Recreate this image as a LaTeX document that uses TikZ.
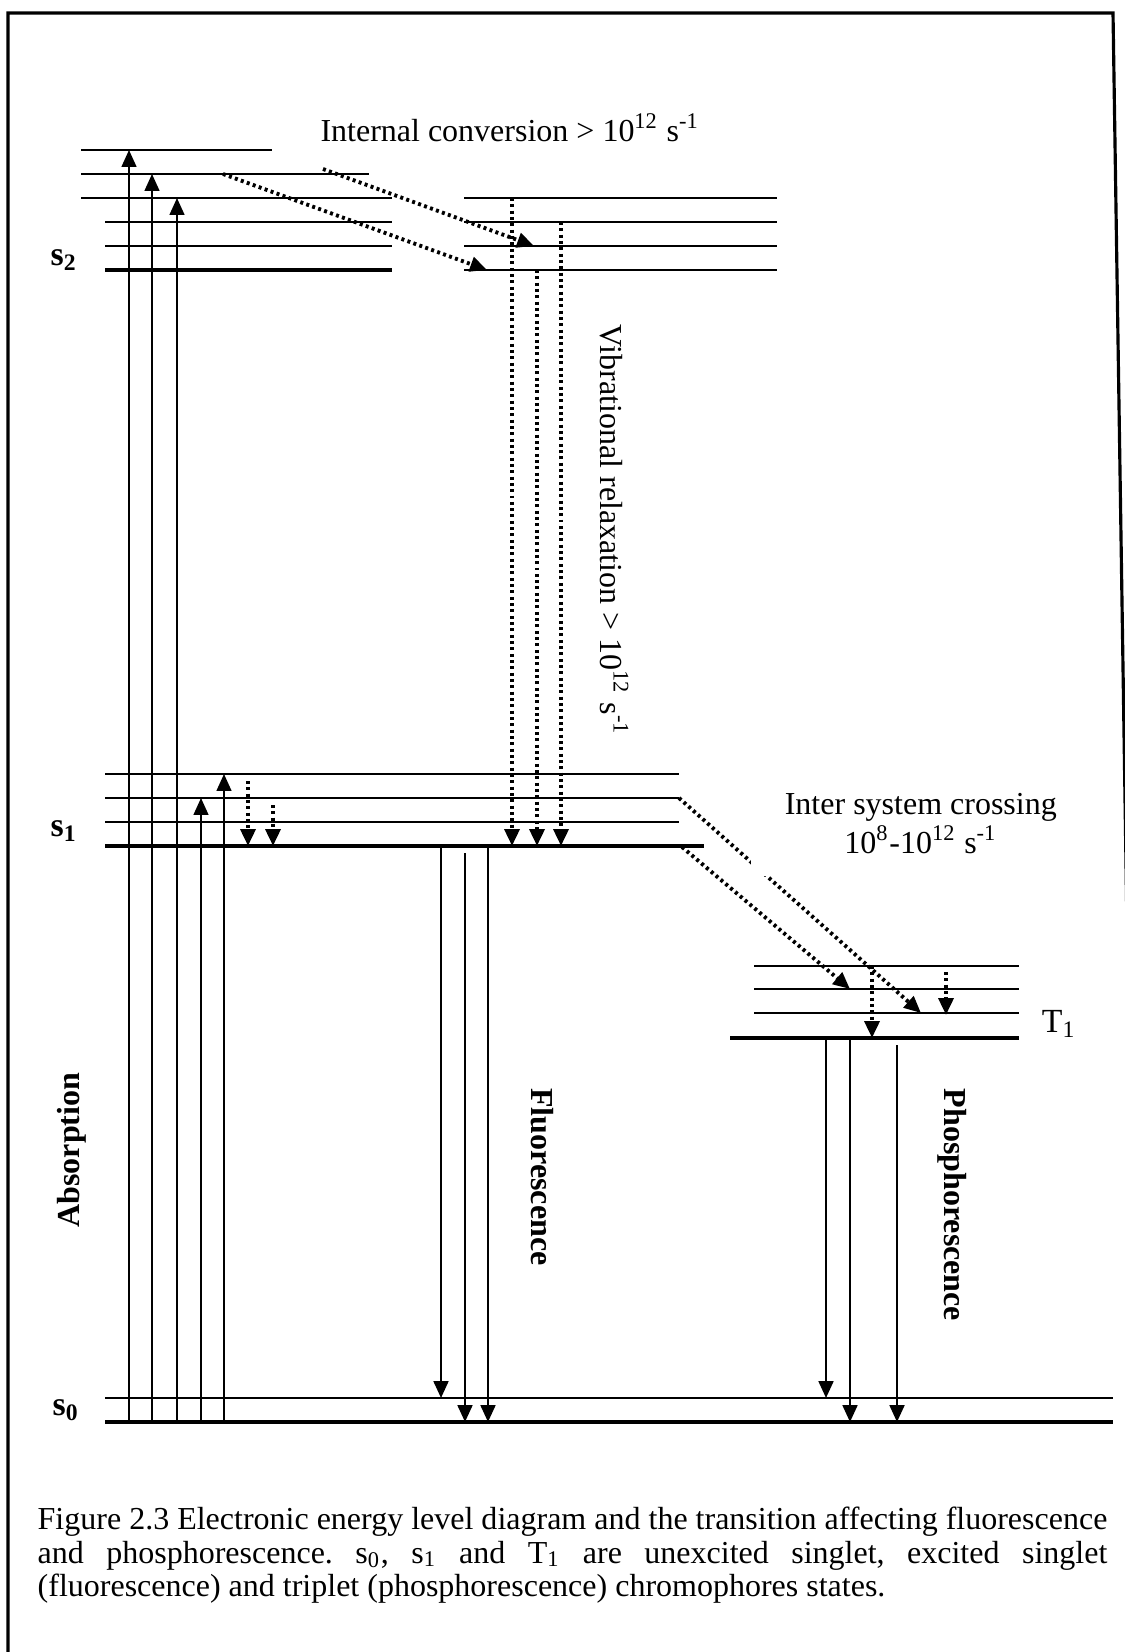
\documentclass[tikz,border=0pt]{standalone}
\usepackage{fontspec}
\setmainfont{Liberation Serif}
\usetikzlibrary{arrows.meta}
\frenchspacing

\begin{document}
\begin{tikzpicture}[x=0.01cm, y=-0.01cm,
    font=\fontsize{9.1}{11}\selectfont,
    >={Triangle[length=4.8pt,width=4.2pt]},
    marco/.style={line width=0.9pt},
    nivel/.style={line width=0.6pt},
    nivelbase/.style={line width=1.2pt},
    abso/.style={->, line width=0.55pt},
    emis/.style={->, line width=0.7pt},
    relaj/.style={->, line width=1.1pt, dash pattern=on 0.85pt off 0.95pt},
    rotulo/.style={font=\fontsize{9.1}{11}\selectfont\bfseries},
    estado/.style={font=\fontsize{9.6}{11}\selectfont\bfseries}]
    % Marco de la figura
    \useasboundingbox (0,0) rectangle (1125,1652);
    \draw[marco] (8,1652) -- (8,13) -- (1113,13) -- (1127,930);

    % Niveles S2 (izquierda)
    \draw[nivel] (81,150) coordinate (s2a) -- (272,150);
    \draw[nivel] (81,174) coordinate (s2b) -- (369,174);
    \draw[nivel] (81,198) coordinate (s2c) -- (392,198);
    \draw[nivel] (105,222) coordinate (s2d) -- (392,222);
    \draw[nivel] (105,246) coordinate (s2e) -- (392,246);
    \draw[nivelbase] (105,270) coordinate (s2f) -- (392,270);
    \node[estado] (lbls2) at (64,260) {s\textsubscript{2}};
    % Niveles S2 (derecha)
    \draw[nivel] (464,198) coordinate (s2g) -- (777,198);
    \draw[nivel] (464,222) coordinate (s2h) -- (777,222);
    \draw[nivel] (464,246) coordinate (s2i) -- (777,246);
    \draw[nivel] (464,270) coordinate (s2j) -- (777,270);

    % Niveles S1
    \draw[nivel] (105,774) coordinate (s1a) -- (679,774);
    \draw[nivel] (105,798) coordinate (s1b) -- (679,798) coordinate (s1bfin);
    \draw[nivel] (105,822) coordinate (s1c) -- (679,822);
    \draw[nivelbase] (105,846) coordinate (s1d) -- (704,846);
    \node[estado] (lbls1) at (64,831) {s\textsubscript{1}};

    % Niveles T1
    \draw[nivel] (754,966) coordinate (t1a) -- (1019,966);
    \draw[nivel] (754,989) coordinate (t1b) -- (1019,989);
    \draw[nivel] (754,1013) coordinate (t1c) -- (1019,1013);
    \draw[nivelbase] (730,1038) coordinate (t1d) -- (1019,1038);
    \node (lblt1) at (1059,1024) {\fontsize{9.6}{11}\selectfont T\textsubscript{1}};

    % Niveles S0
    \draw[nivel] (105,1398) coordinate (s0a) -- (1113,1398);
    \draw[nivelbase] (105,1422) coordinate (s0b) -- (1113,1422);
    \node[estado] (lbls0) at (66,1410) {s\textsubscript{0}};

    % Absorcion
    \draw[abso] (129,0 |- s0b) -- (129,0 |- s2a);
    \draw[abso] (152,0 |- s0b) -- (152,0 |- s2b);
    \draw[abso] (177,0 |- s0b) -- (177,0 |- s2c);
    \draw[abso] (201,0 |- s0b) -- (201,0 |- s1b);
    \draw[abso] (224,0 |- s0b) -- (224,0 |- s1a);
    \node[rotulo, rotate=90] (absorcion) at (72,1150) {Absorption};

    % Conversion interna
    \draw[relaj] (223,0 |- s2b) -- (487,0 |- s2j);
    \draw[relaj] (323,169) -- (534,0 |- s2i);
    \node[anchor=base] (convint) at (510,142)
        {Internal conversion > 10\textsuperscript{12} s\textsuperscript{-1}};

    % Relajacion vibracional
    \draw[relaj] (512,0 |- s2g) -- (512,0 |- s1d);
    \draw[relaj] (537,0 |- s2j) -- (537,0 |- s1d);
    \draw[relaj] (561,0 |- s2h) -- (561,0 |- s1d);
    \draw[relaj] (248,781) -- (248,0 |- s1d);
    \draw[relaj] (273,805) -- (273,0 |- s1d);
    \node[rotate=-90] (relvib) at (614,530)
        {Vibrational relaxation > 10\textsuperscript{12} s\textsuperscript{-1}};

    % Cruce entre sistemas
    \draw[relaj] (s1bfin) -- (921,0 |- t1c);
    \draw[relaj] (682,847) -- (850,0 |- t1b);
    \node[fill=white, align=center, anchor=south west, minimum width=3.4cm,
        minimum height=1.05cm, inner sep=0pt] (isc) at (750,877)
        {Inter system crossing\\10\textsuperscript{8}-10\textsuperscript{12} s\textsuperscript{-1}};
    \draw[relaj] (872,0 |- t1a) -- (872,0 |- t1d);
    \draw[relaj] (946,972) -- (946,1015);

    % Fluorescencia
    \draw[emis] (441,0 |- s1d) -- (441,0 |- s0a);
    \draw[emis] (465,853) -- (465,0 |- s0b);
    \draw[emis] (488,0 |- s1d) -- (488,0 |- s0b);
    \node[rotulo, rotate=-90] (fluor) at (542,1177) {Fluorescence};

    % Fosforescencia
    \draw[emis] (826,0 |- t1d) -- (826,0 |- s0a);
    \draw[emis] (850,0 |- t1d) -- (850,0 |- s0b);
    \draw[emis] (897,1045) -- (897,0 |- s0b);
    \node[rotulo, rotate=-90] (fosfor) at (952,1205) {Phosphorescence};

    % Leyenda
    \node[anchor=north west, text width=10.69cm, align=justify, inner sep=0pt,
        font=\fontsize{9.1}{9.6}\selectfont] (leyenda) at (37,1506)
        {Figure 2.3 Electronic energy level diagram and the transition affecting fluorescence\linebreak
         and phosphorescence. s\textsubscript{0}, s\textsubscript{1} and T\textsubscript{1} are unexcited singlet, excited singlet\linebreak
         (fluorescence) and triplet (phosphorescence) chromophores states.};
\end{tikzpicture}
\end{document}
